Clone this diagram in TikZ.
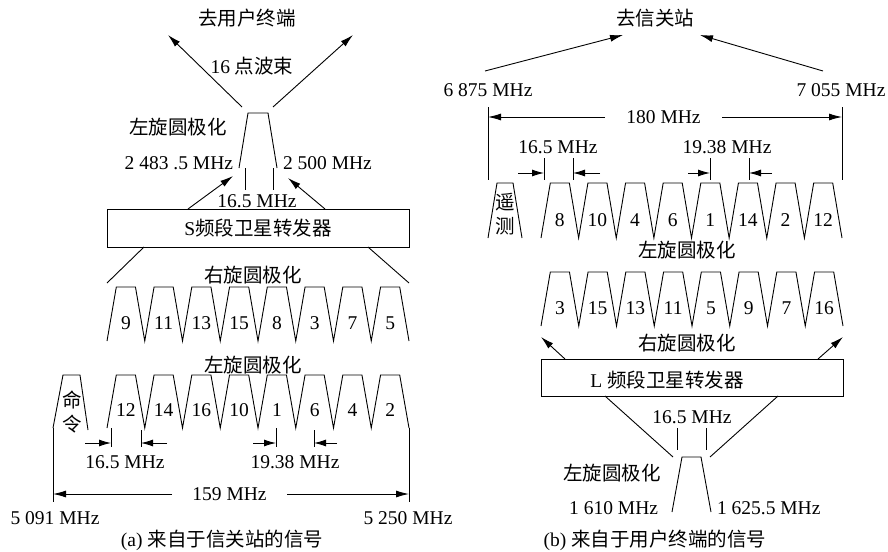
\documentclass[tikz,border=0pt]{standalone}
\usepackage{fontspec}
\setmainfont{Liberation Serif}
\newfontfamily\cjk{Noto Sans CJK SC}
\usetikzlibrary{arrows.meta}
\newcommand{\chanrow}[4]{% x0, top, bottom, period
  \draw (#1,#3) foreach \i in {0,...,7}{ -- ({#1+\i*#4+9.3},#2) -- ({#1+(\i+1)*#4-9.3},#2) -- ({#1+(\i+1)*#4},#3)};}
\begin{document}
\begin{tikzpicture}[x=1pt,y=-1pt,line width=0.9pt,
  every node/.style={inner sep=0pt,outer sep=0pt},
  font=\fontsize{19.5}{24}\selectfont,
  arr/.style={-{Latex[length=13pt,width=7pt]}},
  darr/.style={-{Latex[length=12pt,width=7pt]}},
  fbox/.style={draw,minimum width=302pt,minimum height=38pt}]
\useasboundingbox (0,0) rectangle (888,551);

% ================= (a) left =================
\node (ta) at (247,18) {\cjk 去用户终端};
\node (beam) at (252,66) {16 {\cjk 点波束}};
\coordinate (tipAL) at (168,35); \coordinate (tipAR) at (353,35);
\coordinate (stAL) at (242,107); \coordinate (stAR) at (273,107);
\draw[arr] (stAL) -- (tipAL);
\draw[arr] (stAR) -- (tipAR);
\draw (239,168) -- (248,113) -- (268,113) -- (277,168);
\node (lh1) at (178,127) {\cjk 左旋圆极化};
\node[anchor=east] (fa1) at (233,163) {2 483 .5 MHz};
\node[anchor=west] (fa2) at (283,163) {2 500 MHz};
\draw (245,168) -- (245,190) (273,168) -- (273,190);
\node (bwa) at (257,201) {16.5 MHz};
\node[fbox] (sbox) at (258,228) {S{\cjk 频段卫星转发器}};
\coordinate (upAL) at (233,176); \coordinate (upAR) at (288,178);
\draw[arr] ([xshift=81pt]sbox.north west) -- (upAL);
\draw[arr] ([xshift=-84pt]sbox.north east) -- (upAR);
\coordinate (r1L) at (107,283); \coordinate (r1R) at (409,283);
\draw ([xshift=37pt]sbox.south west) -- (r1L);
\draw ([xshift=-41pt]sbox.south east) -- (r1R);
\node (rh1) at (253,275) {\cjk 右旋圆极化};
\chanrow{107}{287}{341}{37.75}
\foreach \n [count=\k from 0] in {9,11,13,15,8,3,7,5}
  \node (an\k) at ({107+(\k+0.5)*37.75},323) {\n};
\node (lh2) at (253,365) {\cjk 左旋圆极化};
\chanrow{107}{375}{428}{37.75}
\foreach \n [count=\k from 0] in {12,14,16,10,1,6,4,2}
  \node (bn\k) at ({107+(\k+0.5)*37.75},410) {\n};
\draw (53,428) -- (63,375) -- (80,375) -- (88,430);
\node[align=center] (cmd) at (72,412) {{\cjk 命}\\{\cjk 令}};
% dimension 16.5 / 19.38
\draw (111,428) -- (111,447) (141,430) -- (141,447);
\coordinate (d1a) at (85,443); \coordinate (d1b) at (111,443);
\coordinate (d1c) at (167,443); \coordinate (d1d) at (141,443);
\draw[darr] (d1a) -- (d1b); \draw[darr] (d1c) -- (d1d);
\node (bwb) at (125,462) {16.5 MHz};
\draw (276,428) -- (276,447) (314,430) -- (314,447);
\coordinate (d2a) at (253,443); \coordinate (d2b) at (276,443);
\coordinate (d2c) at (337,443); \coordinate (d2d) at (314,443);
\draw[darr] (d2a) -- (d2b); \draw[darr] (d2c) -- (d2d);
\node (bwc) at (295,462) {19.38 MHz};
% 159 MHz
\draw (53,428) -- (53,502) (409,428) -- (409,502);
\node[minimum width=115pt] (b159) at (229.5,494) {159 MHz};
\coordinate (e159L) at (53,494); \coordinate (e159R) at (409,494);
\draw[arr] (b159.west) -- (e159L);
\draw[arr] (b159.east) -- (e159R);
\node (f5091) at (55,518) {5 091 MHz};
\node (f5250) at (408,518) {5 250 MHz};
\node (capa) at (222,540) {(a) {\cjk 来自于信关站的信号}};

% ================= (b) right =================
\node (tb) at (655,18) {\cjk 去信关站};
\coordinate (stBL) at (485,71); \coordinate (tipBL) at (623,35);
\coordinate (stBR) at (823,71); \coordinate (tipBR) at (700,35);
\draw[arr] (stBL) -- (tipBL);
\draw[arr] (stBR) -- (tipBR);
\node (f6875) at (488,90) {6 875 MHz};
\node (f7055) at (841,90) {7 055 MHz};
\draw (488,107) -- (488,180) (842,107) -- (842,180);
\node[minimum width=117pt] (b180) at (663.5,117) {180 MHz};
\coordinate (e180L) at (488,117); \coordinate (e180R) at (842,117);
\draw[arr] (b180.west) -- (e180L);
\draw[arr] (b180.east) -- (e180R);
\node (bwd) at (558,147) {16.5 MHz};
\draw (544,158) -- (544,180) (573,158) -- (573,180);
\coordinate (d3a) at (518,173); \coordinate (d3b) at (544,173);
\coordinate (d3c) at (600,173); \coordinate (d3d) at (573,173);
\draw[darr] (d3a) -- (d3b); \draw[darr] (d3c) -- (d3d);
\node (bwe) at (727,147) {19.38 MHz};
\draw (710,158) -- (710,180) (749,158) -- (749,180);
\coordinate (d4a) at (688,173); \coordinate (d4b) at (710,173);
\coordinate (d4c) at (772,173); \coordinate (d4d) at (749,173);
\draw[darr] (d4a) -- (d4b); \draw[darr] (d4c) -- (d4d);
\draw (488,238) -- (497,183) -- (513,183) -- (522,238);
\node[align=center] (tlm) at (505,214.5) {{\cjk 遥}\\{\cjk 测}};
\chanrow{541}{183}{238}{37.625}
\foreach \n [count=\k from 0] in {8,10,4,6,1,14,2,12}
  \node (cn\k) at ({541+(\k+0.5)*37.625},220) {\n};
\node (lh3) at (687,250) {\cjk 左旋圆极化};
\chanrow{541}{272}{326}{37.75}
\foreach \n [count=\k from 0] in {3,15,13,11,5,9,7,16}
  \node (dn\k) at ({541+(\k+0.5)*37.75},308) {\n};
\node (rh2) at (687,343) {\cjk 右旋圆极化};
\node[fbox,minimum height=37pt] (lbox) at (692,377.5) {};
\node (ltxt) at (667,380) {L {\cjk 频段卫星转发器}};
\coordinate (upBL) at (541,337); \coordinate (upBR) at (843,337);
\draw[arr] ([xshift=24pt]lbox.north west) -- (upBL);
\draw[arr] ([xshift=-25pt]lbox.north east) -- (upBR);
\coordinate (lnBL) at (673,457); \coordinate (lnBR) at (710,457);
\draw ([xshift=64pt]lbox.south west) -- (lnBL);
\draw ([xshift=-65pt]lbox.south east) -- (lnBR);
\node (bwf) at (692,417) {16.5 MHz};
\draw (677,428) -- (677,450) (706,428) -- (706,450);
\draw (672,512) -- (682,457) -- (701,457) -- (711,512);
\node (lh4) at (612,473) {\cjk 左旋圆极化};
\node[anchor=east] (f1610) at (658,508) {1 610 MHz};
\node[anchor=west] (f1625) at (717,508) {1 625.5 MHz};
\node (capb) at (655,540) {(b) {\cjk 来自于用户终端的信号}};
\end{tikzpicture}
\end{document}
